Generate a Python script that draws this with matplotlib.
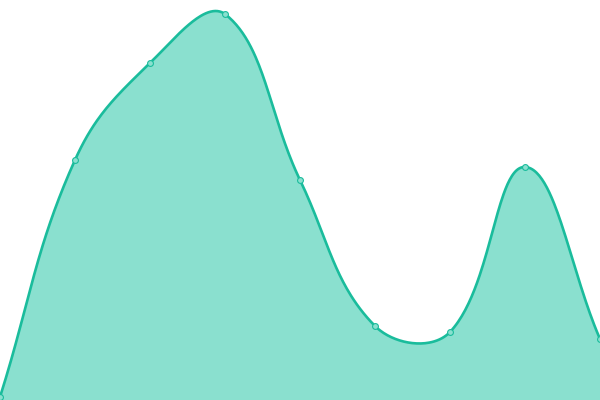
import numpy as np
import matplotlib
matplotlib.use('Agg')
import matplotlib.pyplot as plt

# Values (y axis runs 0 at bottom to 400 at top)
labels = ['P1', 'P2', 'P3', 'P4', 'P5', 'P6', 'P7', 'P8', 'P9']
values = [3, 240, 337, 386, 220, 74, 68, 233, 61]

line_color = '#1abc9c'
fill_color = '#8ae0cf'
tension = 0.4

W, H = 600, 400
x_max = len(values) - 1
y_max = 400


def to_px(i, v):
    return i * W / x_max, v * H / y_max


def from_px(px, py):
    return px * x_max / W, py * y_max / H


# Chart.js style spline control points, computed in pixel space
pts = [to_px(i, v) for i, v in enumerate(values)]
ctrl = []
for i, cur in enumerate(pts):
    prev = pts[i - 1] if i > 0 else cur
    nxt = pts[i + 1] if i < len(pts) - 1 else cur
    d01 = np.hypot(cur[0] - prev[0], cur[1] - prev[1])
    d12 = np.hypot(nxt[0] - cur[0], nxt[1] - cur[1])
    tot = d01 + d12
    s01 = d01 / tot if tot else 0
    s12 = d12 / tot if tot else 0
    fa, fb = tension * s01, tension * s12
    cp_prev = [cur[0] - fa * (nxt[0] - prev[0]), cur[1] - fa * (nxt[1] - prev[1])]
    cp_next = [cur[0] + fb * (nxt[0] - prev[0]), cur[1] + fb * (nxt[1] - prev[1])]
    for cp in (cp_prev, cp_next):
        cp[0] = min(max(cp[0], 0), W)
        cp[1] = min(max(cp[1], 0), H)
    ctrl.append((cp_prev, cp_next))

curve_x, curve_y = [], []
t = np.linspace(0, 1, 60)
for i in range(len(pts) - 1):
    p0 = np.array(pts[i])
    p1 = np.array(ctrl[i][1])
    p2 = np.array(ctrl[i + 1][0])
    p3 = np.array(pts[i + 1])
    seg = ((1 - t) ** 3)[:, None] * p0 + (3 * (1 - t) ** 2 * t)[:, None] * p1 \
        + (3 * (1 - t) * t ** 2)[:, None] * p2 + (t ** 3)[:, None] * p3
    sx, sy = from_px(seg[:, 0], seg[:, 1])
    curve_x.extend(sx)
    curve_y.extend(sy)

fig = plt.figure(figsize=(6, 4), dpi=100)
ax = fig.add_axes([0, 0, 1, 1])
ax.fill_between(curve_x, curve_y, 0, color=fill_color, linewidth=0)
ax.plot(curve_x, curve_y, color=line_color, linewidth=1.9, solid_capstyle='round')
ax.plot(range(len(values)), values, 'o', markersize=4.2, markerfacecolor=fill_color,
        markeredgecolor=line_color, markeredgewidth=0.8, clip_on=False)
ax.set_xlim(0, x_max)
ax.set_ylim(0, y_max)
ax.axis('off')

fig.savefig('out.png', dpi=100)
